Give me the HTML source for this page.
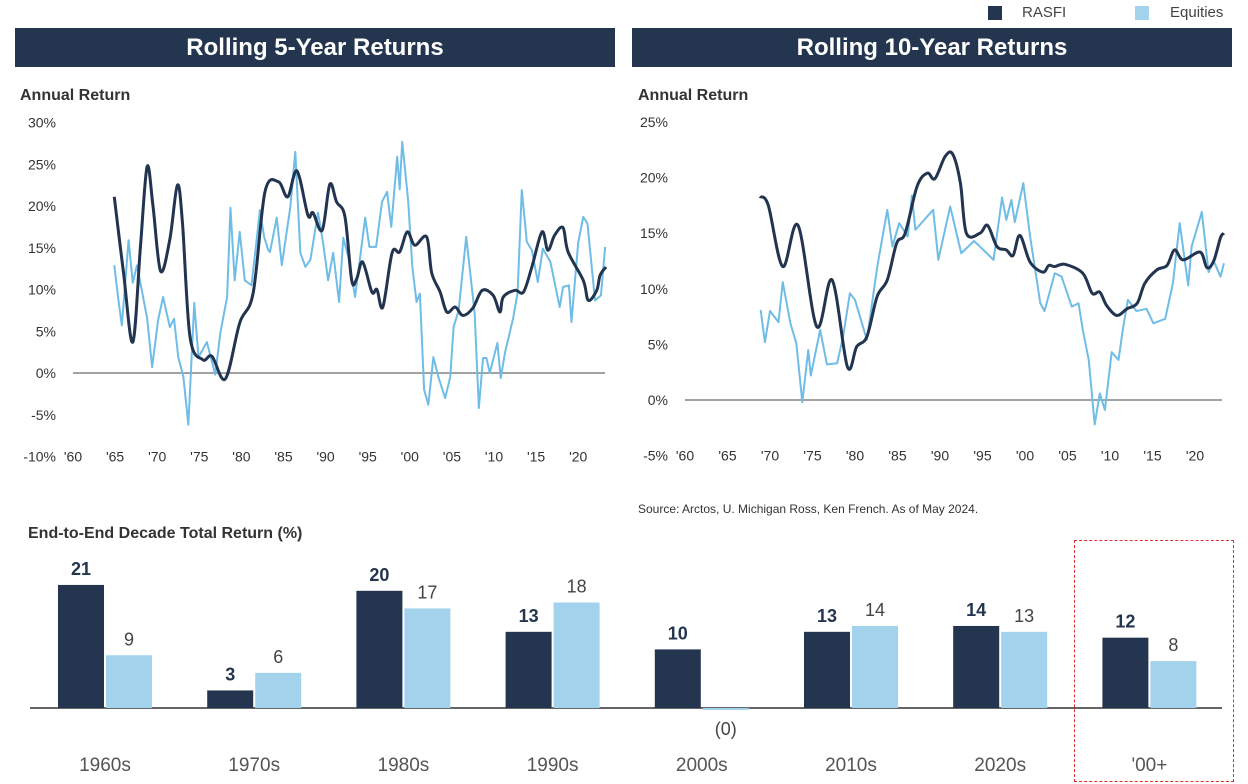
<!DOCTYPE html>
<html><head><meta charset="utf-8"><style>
body{margin:0;width:1248px;height:784px;background:#fff;font-family:"Liberation Sans",sans-serif;overflow:hidden;position:relative}
.hdr{position:absolute;top:28px;height:39px;background:#24364f;color:#fff;font-weight:bold;font-size:24px;text-align:center;line-height:39px}
.t{position:absolute;font-weight:bold;font-size:16px;color:#333}
</style></head><body>
<div>
<div style="position:absolute;left:988px;top:6px;width:14px;height:14px;background:#24364f"></div>
<div style="position:absolute;left:1022px;top:4px;font-size:15px;color:#444">RASFI</div>
<div style="position:absolute;left:1135px;top:6px;width:14px;height:14px;background:#a3d3ec"></div>
<div style="position:absolute;left:1170px;top:4px;font-size:15px;color:#444">Equities</div>
</div>
<div class="hdr" style="left:15px;width:600px">Rolling 5-Year Returns</div>
<div class="hdr" style="left:632px;width:600px">Rolling 10-Year Returns</div>
<div class="t" style="left:20px;top:87px">Annual Return</div>
<div class="t" style="left:638px;top:87px">Annual Return</div>
<div style="position:absolute;left:638px;top:502px;font-size:12px;color:#333">Source: Arctos, U. Michigan Ross, Ken French. As of May 2024.</div>
<div class="t" style="left:28px;top:525px">End-to-End Decade Total Return (%)</div>
<div style="position:absolute;left:1074px;top:540px;width:158px;height:240px;border:1px dashed #e03030"></div>
<svg id="svg" width="1248" height="784" style="position:absolute;left:0;top:0"></svg>
<script>
const ras5=[[1964.9,21.1],[1966,12],[1967.1,3.7],[1968,15],[1968.8,24.7],[1969.5,20],[1970.4,12.2],[1971.5,16],[1972.4,22.5],[1973,18],[1973.9,4.3],[1975.4,1.6],[1976.5,2.0],[1978.1,-0.7],[1979.8,6.0],[1981.4,9.6],[1982.8,21.7],[1984.4,22.9],[1985.5,21.1],[1986.6,24.2],[1987.9,18.9],[1988.5,19.2],[1989.6,17.1],[1990.5,22.6],[1991.3,20.5],[1992.3,18.7],[1993.1,11.1],[1993.7,11.3],[1994.4,13.3],[1995.5,9.7],[1996.1,10.0],[1996.8,7.9],[1997.9,14.4],[1998.8,14.5],[1999.7,16.9],[2000.6,15.3],[2002.0,16.3],[2002.6,12.0],[2003.6,9.7],[2004.4,7.3],[2005.4,7.9],[2006.3,6.9],[2007.5,7.8],[2008.6,9.9],[2009.9,9.3],[2010.7,7.3],[2011.1,9.1],[2012.5,9.9],[2013.5,9.7],[2014.5,12.7],[2015.7,16.9],[2016.4,14.7],[2017.2,16.5],[2018.2,17.4],[2018.8,14.5],[2020.6,11.1],[2021.2,8.7],[2022.2,9.9],[2022.6,11.7],[2023.3,12.7]];
const eq5=[[1964.9,12.9],[1965.4,8.7],[1965.8,5.7],[1966.6,15.9],[1967.1,10.8],[1967.6,12.9],[1968.8,6.6],[1969.4,0.7],[1970.1,6.3],[1970.7,9.1],[1971.5,5.5],[1972.0,6.5],[1972.5,1.9],[1973.1,-0.4],[1973.7,-6.2],[1974.4,8.4],[1974.9,1.9],[1975.9,3.7],[1976.9,-0.2],[1977.5,4.8],[1978.3,9.1],[1978.7,19.8],[1979.2,11.1],[1979.8,16.9],[1980.4,11.1],[1981.2,10.5],[1982.2,19.5],[1982.7,16.3],[1983.2,14.7],[1983.4,14.5],[1984.2,18.6],[1984.8,12.9],[1985.8,19.8],[1986.4,26.5],[1987.0,14.4],[1987.6,12.7],[1988.2,13.6],[1989.1,19.2],[1989.7,15.6],[1990.3,11.1],[1990.9,14.4],[1991.6,8.5],[1992.1,16.2],[1992.7,13.9],[1993.5,9.1],[1994.7,18.6],[1995.2,15.1],[1996.0,15.1],[1996.7,20.5],[1997.3,21.7],[1997.8,17.5],[1998.5,25.9],[1998.8,22.0],[1999.1,27.7],[1999.8,20.7],[2000.3,12.7],[2000.8,8.5],[2001.2,9.5],[2001.7,-2.0],[2002.2,-3.8],[2002.8,1.9],[2003.4,-0.5],[2004.2,-3.0],[2004.8,-0.5],[2005.2,5.5],[2005.8,7.5],[2006.7,16.3],[2007.1,12.7],[2007.7,7.2],[2008.2,-4.2],[2008.7,1.8],[2009.1,1.8],[2009.5,0],[2010.4,3.6],[2010.8,-0.6],[2011.3,2.4],[2012.3,6.7],[2012.8,9.6],[2013.3,21.9],[2013.9,15.7],[2014.5,14.7],[2015.2,10.9],[2015.8,14.9],[2016.7,13.3],[2017.8,7.9],[2018.2,10.3],[2018.9,10.5],[2019.2,6.1],[2020.0,15.6],[2020.6,18.7],[2021.1,17.9],[2022.0,8.7],[2022.7,9.3],[2023.2,15.1]];
const ras10=[[1968.8,18.3],[1969.8,17.5],[1971.5,12.0],[1973.3,15.7],[1975.5,6.6],[1977.3,10.8],[1979.1,3.0],[1980.2,4.8],[1981.4,5.7],[1982.6,9.3],[1983.8,10.8],[1984.9,14.1],[1985.9,15.0],[1987.3,19.2],[1988.5,20.4],[1989.4,19.9],[1990.6,21.9],[1991.5,22.1],[1992.4,19.5],[1993.1,15.0],[1994.7,15.0],[1995.6,15.7],[1996.7,13.8],[1997.8,13.5],[1998.6,13.0],[1999.4,14.8],[2000.6,12.4],[2002.1,11.5],[2002.8,12.1],[2003.5,12.0],[2004.7,12.2],[2006.8,11.4],[2007.9,9.6],[2008.8,9.7],[2009.6,8.5],[2010.8,7.6],[2012.0,8.2],[2013.2,8.7],[2014.1,10.5],[2015.5,11.7],[2016.7,12.1],[2017.6,13.5],[2018.6,12.6],[2020.6,13.3],[2021.4,11.9],[2022.2,12.5],[2023.0,14.6],[2023.4,15.0]];
const eq10=[[1968.9,8.1],[1969.4,5.2],[1970.0,8.0],[1971.0,7.0],[1971.5,10.6],[1972.4,6.9],[1973.1,5.1],[1973.8,-0.2],[1974.5,4.5],[1974.8,2.2],[1975.9,6.3],[1976.7,3.2],[1977.9,3.3],[1978.6,5.7],[1979.4,9.6],[1980.0,9.0],[1981.4,5.4],[1982.6,11.9],[1983.8,17.1],[1984.4,13.8],[1985.2,15.9],[1986.2,14.7],[1986.7,18.4],[1987.1,15.3],[1989.2,17.1],[1989.8,12.6],[1991.2,17.4],[1992.5,13.2],[1994.0,14.3],[1994.7,13.8],[1996.3,12.6],[1997.3,18.2],[1997.8,16.2],[1998.4,18.0],[1998.8,16.0],[1999.8,19.5],[2000.6,14.7],[2001.8,8.7],[2002.3,8.0],[2003.5,11.4],[2004.3,11.1],[2005.5,8.4],[2006.3,8.7],[2006.8,6.3],[2007.5,3.6],[2008.2,-2.2],[2008.8,0.6],[2009.4,-0.9],[2010.2,4.3],[2011.0,3.6],[2011.5,6.3],[2012.1,9.0],[2013.1,8.0],[2014.3,8.2],[2015.1,6.9],[2016.5,7.3],[2017.4,10.5],[2018.2,15.9],[2019.2,10.3],[2019.6,13.8],[2020.8,16.9],[2021.6,11.5],[2022.2,12.5],[2023.0,11.1],[2023.4,12.3]];
const xTickLabels=["'60","'65","'70","'75","'80","'85","'90","'95","'00","'05","'10","'15","'20"];
const yTicks5=[30,25,20,15,10,5,0,-5,-10];
const yTicks10=[25,20,15,10,5,0,-5];
const decades=["1960s","1970s","1980s","1990s","2000s","2010s","2020s","'00+"];
const rasfiBars=[21,3,20,13,10,13,14,12];
const equityBars=[9,6,17,18,-0.3,14,13,8];
const equityLabels=["9","6","17","18","(0)","14","13","8"];

const svg=document.getElementById('svg');const NS='http://www.w3.org/2000/svg';
function mk(tag,attrs,parent){const e=document.createElementNS(NS,tag);for(const k in attrs)e.setAttribute(k,attrs[k]);(parent||svg).appendChild(e);return e;}
function smooth(pts){let d='M'+pts[0][0]+','+pts[0][1];
  for(let i=0;i<pts.length-1;i++){const p0=pts[i-1]||pts[i],p1=pts[i],p2=pts[i+1],p3=pts[i+2]||p2;
    const c1=[p1[0]+(p2[0]-p0[0])/6,p1[1]+(p2[1]-p0[1])/6],c2=[p2[0]-(p3[0]-p1[0])/6,p2[1]-(p3[1]-p1[1])/6];
    d+=' C'+c1[0]+','+c1[1]+' '+c2[0]+','+c2[1]+' '+p2[0]+','+p2[1];}
  return d;}
function chart(name,x0,pxYear,y0,pxPct,yTicks,xEnd,ras,eq){
  const g=mk('g',{});
  
  
  const X=yr=>x0+(yr-1960)*pxYear, Y=v=>y0-v*pxPct;
  yTicks.forEach(v=>{const t=mk('text',{x:x0-17,y:Y(v)+5,'text-anchor':'end','font-size':14,fill:'#333'},g);t.textContent=v+'%';
    
    });
  const yb=Y(yTicks[yTicks.length-1]);
  xTickLabels.forEach((l,i)=>{const t=mk('text',{x:X(1960+i*5),y:yb+5,'text-anchor':'middle','font-size':14,fill:'#333'},g);t.textContent=l;
    
    });
  const z=mk('line',{x1:x0,x2:xEnd,y1:Y(0),y2:Y(0),stroke:'#444','stroke-width':1},g);
  
  
  const pe=mk('polyline',{points:eq.map(p=>X(p[0])+','+Y(p[1])).join(' '),fill:'none',stroke:'#6fbde6','stroke-width':2,'stroke-linejoin':'round'},g);
  
  
  const pr=mk('path',{d:smooth(ras.map(p=>[X(p[0]),Y(p[1])])),fill:'none',stroke:'#22344f','stroke-width':3,'stroke-linejoin':'round'},g);
  
  
}
chart('rolling-5-year-chart',73,8.42,373,8.35,yTicks5,605,ras5,eq5);
chart('rolling-10-year-chart',685,8.5,400,11.12,yTicks10,1222,ras10,eq10);

const base=708, sc=5.86, gx0=105, gsp=149.2, bw=46;
const bl=mk('line',{x1:30,x2:1222,y1:base,y2:base,stroke:'#333','stroke-width':1.5});


decades.forEach((d,i)=>{
  const c=gx0+i*gsp;
  const r=rasfiBars[i], e=equityBars[i];
  const rb=mk('rect',{x:c-47,y:base-r*sc,width:bw,height:r*sc,fill:'#24364f'});
  
  
  const eh=Math.abs(e)*sc;
  const eb=mk('rect',{x:c+1,y:e>=0?base-eh:base,width:bw,height:Math.max(eh,2),fill:'#a3d3ec'});
  
  
  const rt=mk('text',{x:c-24,y:base-r*sc-10,'text-anchor':'middle','font-size':18,'font-weight':'bold',fill:'#24364f'});rt.textContent=String(r);
  
  
  const et=mk('text',{x:c+24,y:e>=0?base-eh-10:base+27,'text-anchor':'middle','font-size':18,fill:'#444'});et.textContent=equityLabels[i];
  
  
  const ct=mk('text',{x:c,y:771,'text-anchor':'middle','font-size':19,fill:'#555'});ct.textContent=d;
  
  
});
</script>
</body></html>
